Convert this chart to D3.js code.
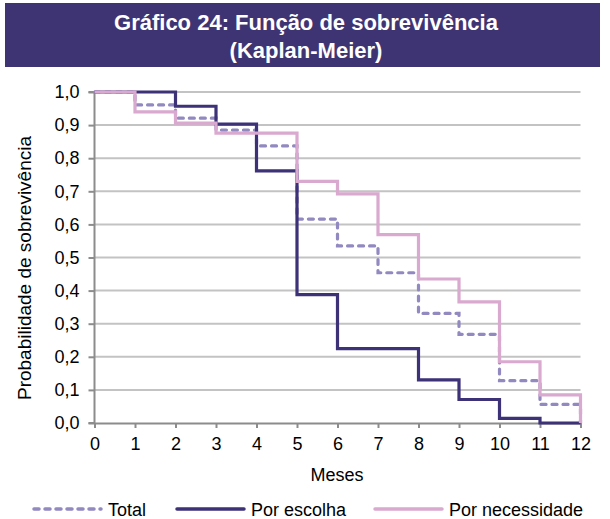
<!DOCTYPE html>
<html><head><meta charset="utf-8">
<script src="https://cdn.jsdelivr.net/npm/d3@7"></script>
<style>body{margin:0;background:#fff}svg{display:block;font-family:"Liberation Sans",Arial,sans-serif}</style>
</head><body>
<svg id="c" width="610" height="519"></svg>
<script>
const months = [0,1,2,3,4,5,6,7,8,9,10,11,12];
const total = [1.0,0.961,0.921,0.885,0.837,0.616,0.535,0.454,0.331,0.268,0.128,0.056,0];
const escolha = [1.0,1.0,0.957,0.903,0.762,0.388,0.225,0.225,0.130,0.071,0.014,0.0,0.0];
const necessidade = [1.0,0.940,0.906,0.876,0.876,0.730,0.692,0.569,0.435,0.366,0.185,0.085,0];
const yTicks = [0,0.1,0.2,0.3,0.4,0.5,0.6,0.7,0.8,0.9,1.0];
const seriesNames = ["Total","Por escolha","Por necessidade"];
const colors = ["#9189bf","#3d3178","#d9a9cf"];

const svg = d3.select("#c");
// banner
svg.append("rect").attr("x",5).attr("y",3).attr("width",595).attr("height",64).attr("fill","#3f3473");
svg.append("text").attr("x",306).attr("y",30).attr("text-anchor","middle").attr("fill","#fff")
  .attr("font-weight","bold").attr("font-size",22).text("Gráfico 24: Função de sobrevivência");
svg.append("text").attr("x",306).attr("y",58).attr("text-anchor","middle").attr("fill","#fff")
  .attr("font-weight","bold").attr("font-size",22).text("(Kaplan-Meier)");

const x = d3.scaleLinear().domain([0,12]).range([94.5,580.5]);
const y = d3.scaleLinear().domain([0,1]).range([423,92]);

// gridlines
svg.append("g").selectAll("line").data(yTicks.filter(d=>d>0)).join("line")
  .attr("x1",x(0)).attr("x2",x(12)).attr("y1",d=>y(d)).attr("y2",d=>y(d))
  .attr("stroke","#c3c3c3").attr("stroke-width",2);

// axes
const yAxis = d3.axisLeft(y).tickValues(yTicks).tickSize(6).tickPadding(9)
  .tickFormat(d=>d3.format(".1f")(d).replace(".",","));
const gy = svg.append("g").attr("transform",`translate(${x(0)},0)`).call(yAxis);
const xAxis = d3.axisBottom(x).tickValues(months).tickSize(5).tickPadding(9).tickFormat(d3.format("d"));
const gx = svg.append("g").attr("transform",`translate(0,${y(0)})`).call(xAxis);
[gy,gx].forEach(g=>{
  g.select(".domain").attr("stroke","#8c8c8c").attr("stroke-width",2);
  g.selectAll(".tick line").attr("stroke","#8c8c8c").attr("stroke-width",2);
  g.selectAll(".tick text").attr("fill","#000").attr("font-size",18).attr("font-family","Liberation Sans, Arial, sans-serif");
});
gy.select(".domain").attr("d",`M-6,${y(1)}H0V${y(0)}H-6`);

// series
const line = d3.line().x((d,i)=>x(months[i])).y(d=>y(d)).curve(d3.curveStepAfter);
const data = [total, escolha, necessidade];
data.forEach((vals,k)=>{
  svg.append("path").attr("d",line(vals)).attr("fill","none").attr("stroke",colors[k])
    .attr("stroke-width",3.2).attr("stroke-dasharray",k===0?"5,6":null)
    .attr("stroke-linecap",k===0?"round":"butt");
});

// axis titles
svg.append("text").attr("x",337).attr("y",481).attr("text-anchor","middle").attr("font-size",18).text("Meses");
svg.append("text").attr("transform","translate(31,268) rotate(-90)").attr("text-anchor","middle")
  .attr("font-size",19).text("Probabilidade de sobrevivência");

// legend
const legX = [33,176,374];
seriesNames.forEach((n,k)=>{
  const g = svg.append("g").attr("transform",`translate(${legX[k]},509)`);
  g.append("line").attr("x1",1).attr("x2",68).attr("y1",0).attr("y2",0).attr("stroke",colors[k])
    .attr("stroke-width",3.5).attr("stroke-dasharray",k===0?"5,6":null).attr("stroke-linecap","round");
  g.append("text").attr("x",75).attr("y",6.5).attr("font-size",18).text(n);
});
</script>
</body></html>
